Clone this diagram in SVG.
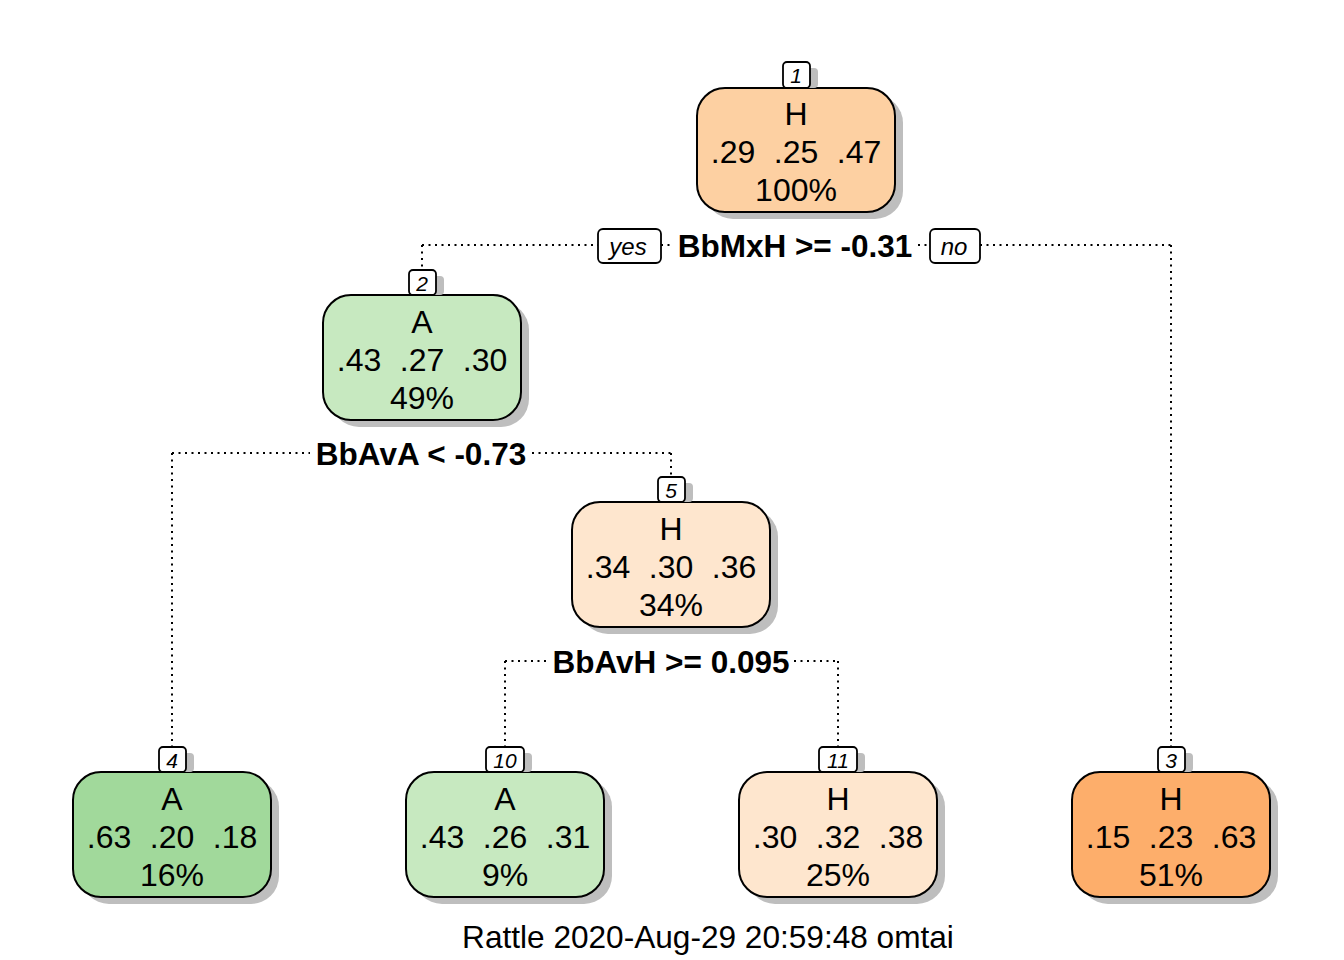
<svg xmlns="http://www.w3.org/2000/svg" width="1344" height="960" viewBox="0 0 1344 960">
<style>
.sh{fill:#bebebe}
.nb{stroke:#000;stroke-width:2}
.lb{fill:#fff;stroke:#000;stroke-width:1.8}
.t{font-family:"Liberation Sans",Arial,sans-serif;font-size:32px;fill:#000;text-anchor:middle}
.n{font-family:"Liberation Sans",Arial,sans-serif;font-size:21px;font-style:italic;fill:#000;text-anchor:middle}
.s{font-family:"Liberation Sans",Arial,sans-serif;font-size:31.5px;font-weight:bold;fill:#000;text-anchor:middle}
.yn{font-family:"Liberation Sans",Arial,sans-serif;font-size:24px;font-style:italic;fill:#000;text-anchor:middle}
.c{fill:none;stroke:#000;stroke-width:2;stroke-dasharray:2 4.5}
.f{font-family:"Liberation Sans",Arial,sans-serif;font-size:31.6px;fill:#000;text-anchor:middle}
</style>
<rect width="1344" height="960" fill="#fff"/>
<g id="connectors">
<path class="c" d="M422,245H598M661,245H672M918,245H930M980,245H1171M422,245V270M1171,245V747"/>
<path class="c" d="M172,453H310M532,453H671M172,453V747M671,453V477"/>
<path class="c" d="M505,661H548M794,661H838M505,661V747M838,661V747"/>
</g>
<g id="split1">
<text class="s" x="795" y="257">BbMxH &gt;= -0.31</text>
<rect class="lb" x="598" y="229" width="63" height="34" rx="5"/>
<text class="yn" x="628" y="255">yes</text>
<rect class="lb" x="930" y="229" width="50" height="34" rx="5"/>
<text class="yn" x="954" y="255">no</text>
</g>
<g id="split2"><text class="s" x="421" y="465">BbAvA &lt; -0.73</text></g>
<g id="split5"><text class="s" x="671" y="673">BbAvH &gt;= 0.095</text></g>

<g id="node1">
<rect class="sh" x="705" y="95" width="198" height="124" rx="28"/>
<rect class="nb" x="697" y="88" width="198" height="124" rx="28" fill="#fdd0a2"/>
<rect class="sh" x="791" y="68" width="27" height="20" rx="4"/>
<rect class="lb" x="783" y="62" width="27" height="26" rx="4"/>
<text class="n" x="796" y="83">1</text>
<text class="t" x="796" y="125">H</text>
<text class="t" x="733" y="163">.29</text><text class="t" x="796" y="163">.25</text><text class="t" x="859" y="163">.47</text>
<text class="t" x="796" y="201">100%</text>
</g>
<g id="node2">
<rect class="sh" x="331" y="302" width="198" height="125" rx="28"/>
<rect class="nb" x="323" y="295" width="198" height="125" rx="28" fill="#c7e9c0"/>
<rect class="sh" x="417" y="276" width="27" height="19" rx="4"/>
<rect class="lb" x="409" y="270" width="27" height="25" rx="4"/>
<text class="n" x="422" y="291">2</text>
<text class="t" x="422" y="333">A</text>
<text class="t" x="359" y="371">.43</text><text class="t" x="422" y="371">.27</text><text class="t" x="485" y="371">.30</text>
<text class="t" x="422" y="409">49%</text>
</g>
<g id="node5">
<rect class="sh" x="580" y="509" width="198" height="125" rx="28"/>
<rect class="nb" x="572" y="502" width="198" height="125" rx="28" fill="#fee6ce"/>
<rect class="sh" x="666" y="483" width="27" height="19" rx="4"/>
<rect class="lb" x="658" y="477" width="27" height="25" rx="4"/>
<text class="n" x="671" y="498">5</text>
<text class="t" x="671" y="540">H</text>
<text class="t" x="608" y="578">.34</text><text class="t" x="671" y="578">.30</text><text class="t" x="734" y="578">.36</text>
<text class="t" x="671" y="616">34%</text>
</g>
<g id="node4">
<rect class="sh" x="81" y="779" width="198" height="125" rx="28"/>
<rect class="nb" x="73" y="772" width="198" height="125" rx="28" fill="#a1d99b"/>
<rect class="sh" x="167" y="753" width="27" height="19" rx="4"/>
<rect class="lb" x="159" y="747" width="27" height="25" rx="4"/>
<text class="n" x="172" y="768">4</text>
<text class="t" x="172" y="810">A</text>
<text class="t" x="109" y="848">.63</text><text class="t" x="172" y="848">.20</text><text class="t" x="235" y="848">.18</text>
<text class="t" x="172" y="886">16%</text>
</g>
<g id="node10">
<rect class="sh" x="414" y="779" width="198" height="125" rx="28"/>
<rect class="nb" x="406" y="772" width="198" height="125" rx="28" fill="#c7e9c0"/>
<rect class="sh" x="494" y="753" width="38" height="19" rx="4"/>
<rect class="lb" x="486" y="747" width="38" height="25" rx="4"/>
<text class="n" x="505" y="768">10</text>
<text class="t" x="505" y="810">A</text>
<text class="t" x="442" y="848">.43</text><text class="t" x="505" y="848">.26</text><text class="t" x="568" y="848">.31</text>
<text class="t" x="505" y="886">9%</text>
</g>
<g id="node11">
<rect class="sh" x="747" y="779" width="198" height="125" rx="28"/>
<rect class="nb" x="739" y="772" width="198" height="125" rx="28" fill="#fee6ce"/>
<rect class="sh" x="827" y="753" width="38" height="19" rx="4"/>
<rect class="lb" x="819" y="747" width="38" height="25" rx="4"/>
<text class="n" x="838" y="768">11</text>
<text class="t" x="838" y="810">H</text>
<text class="t" x="775" y="848">.30</text><text class="t" x="838" y="848">.32</text><text class="t" x="901" y="848">.38</text>
<text class="t" x="838" y="886">25%</text>
</g>
<g id="node3">
<rect class="sh" x="1080" y="779" width="198" height="125" rx="28"/>
<rect class="nb" x="1072" y="772" width="198" height="125" rx="28" fill="#fdae6b"/>
<rect class="sh" x="1166" y="753" width="27" height="19" rx="4"/>
<rect class="lb" x="1158" y="747" width="27" height="25" rx="4"/>
<text class="n" x="1171" y="768">3</text>
<text class="t" x="1171" y="810">H</text>
<text class="t" x="1108" y="848">.15</text><text class="t" x="1171" y="848">.23</text><text class="t" x="1234" y="848">.63</text>
<text class="t" x="1171" y="886">51%</text>
</g>
<text class="f" x="708" y="948">Rattle 2020-Aug-29 20:59:48 omtai</text>
</svg>
